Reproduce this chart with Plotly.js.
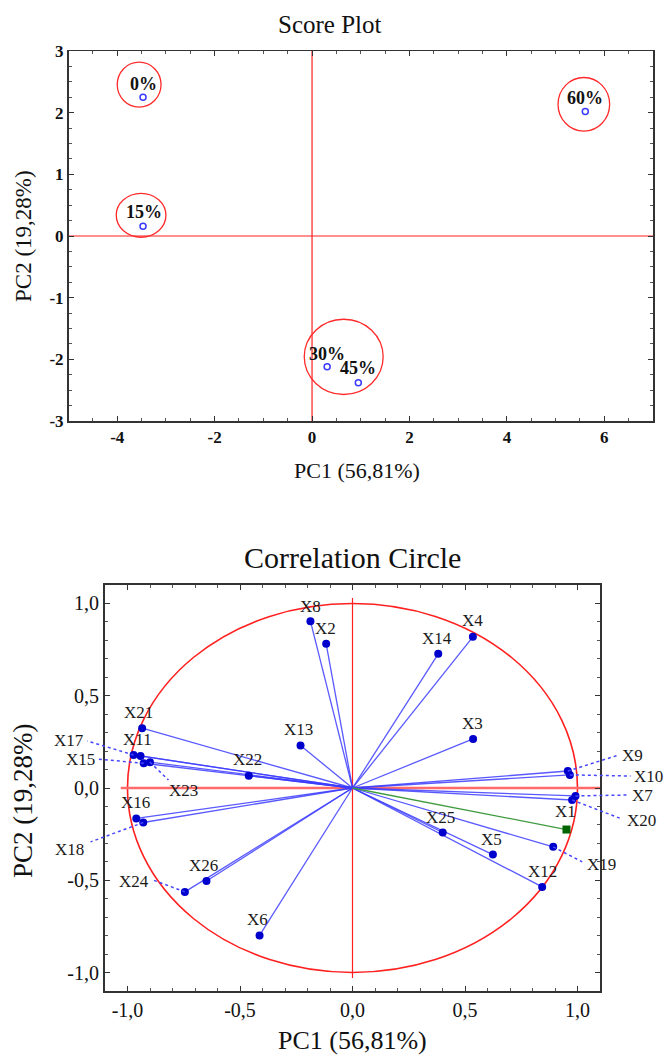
<!DOCTYPE html>
<html><head><meta charset="utf-8">
<script src="https://cdn.plot.ly/plotly-3.0.1.min.js"></script>
<style>html,body{margin:0;padding:0;background:#fff}</style>
</head><body><div id="chart" style="width:671px;height:1057px"></div>
<script>
// ---------- Score plot data ----------
const scoreLabels = ["0%", "15%", "30%", "45%", "60%"];
const scorePC1 = [-3.47, -3.47, 0.31, 0.95, 5.61];
const scorePC2 = [2.25, 0.16, -2.12, -2.38, 2.02];
const scoreLabelPC1 = [-3.47, -3.45, 0.30, 0.95, 5.61];
const scoreLabelPC2 = [2.47, 0.39, -1.91, -2.14, 2.23];
// group ellipses (centre, radii)
const groupCx = [-3.55, -3.51, 0.65, 5.58];
const groupCy = [2.455, 0.335, -1.96, 2.135];
const groupRx = [0.45, 0.51, 0.81, 0.53];
const groupRy = [0.365, 0.355, 0.61, 0.435];
const scoreXTicks = [-4, -2, 0, 2, 4, 6];
const scoreXTickText = ["-4", "-2", "0", "2", "4", "6"];
const scoreYTicks = [-3, -2, -1, 0, 1, 2, 3];
const scoreYTickText = ["-3", "-2", "-1", "0", "1", "2", "3"];

// ---------- Correlation circle data ----------
const varNames = ["X1","X2","X3","X4","X5","X6","X7","X8","X9","X10","X11","X12","X13",
                  "X14","X15","X16","X17","X18","X19","X20","X21","X22","X23","X24","X25","X26"];
const varPC1 = [0.951,-0.117,0.536,0.535,0.624,-0.413,0.991,-0.187,0.957,0.966,-0.942,0.843,-0.231,
                0.381,-0.928,-0.961,-0.973,-0.930,0.892,0.976,-0.935,-0.461,-0.900,-0.745,0.401,-0.649];
const varPC2 = [-0.225,0.781,0.266,0.819,-0.361,-0.799,-0.043,0.904,0.092,0.071,0.174,-0.536,0.230,
                0.727,0.134,-0.165,0.179,-0.187,-0.319,-0.065,0.324,0.067,0.140,-0.563,-0.241,-0.504];
const varLabelPC1 = [0.947,-0.120,0.532,0.532,0.616,-0.424,1.287,-0.187,1.243,1.317,-0.957,0.843,-0.239,
                     0.376,-1.211,-0.964,-1.260,-1.260,1.105,1.283,-0.949,-0.468,-0.753,-0.972,0.391,-0.661];
const varLabelPC2 = [-0.129,0.862,0.348,0.909,-0.277,-0.714,-0.038,0.986,0.174,0.065,0.261,-0.451,0.319,
                     0.808,0.156,-0.080,0.255,-0.333,-0.413,-0.174,0.409,0.156,-0.011,-0.504,-0.159,-0.418];
const highlightVar = "X1";
const leaderNames = ["X17","X15","X23","X18","X24","X9","X10","X7","X20","X19"];
const leaderEndPC1 = [-1.179,-1.127,-0.818,-1.164,-0.883,1.176,1.236,1.221,1.191,1.021];
const leaderEndPC2 = [0.255,0.156,0.043,-0.292,-0.500,0.176,0.065,-0.038,-0.165,-0.400];
const corrTicks = [-1, -0.5, 0, 0.5, 1];
const corrTickText = ["-1,0", "-0,5", "0,0", "0,5", "1,0"];

// ---------- layout geometry ----------
const W = 671, H = 1057;
const SERIF = "Liberation Serif, Times New Roman, serif";
const topDomX = [68.5 / W, 653 / W], topDomY = [1 - 421 / H, 1 - 51 / H];
const botDomX = [105 / W, 600 / W], botDomY = [1 - 991 / H, 1 - 585 / H];
const botRange = [-1.1, 1.1];
const k = (botRange[1] - botRange[0]) / (botDomX[1] - botDomX[0]);
const overlayRange = [botRange[0] - botDomX[0] * k, botRange[1] + (1 - botDomX[1]) * k];

const traces = [];
// score points
traces.push({
  type: "scatter", mode: "markers", x: scorePC1, y: scorePC2, xaxis: "x", yaxis: "y",
  marker: {symbol: "circle-open", size: 6, color: "#3a3aff", line: {width: 1.5, color: "#3a3aff"}},
  hoverinfo: "skip", showlegend: false
});
// correlation vectors
const lx = [], ly = [], dx = [], dy = [];
let gx = [], gy = [];
varNames.forEach((n, i) => {
  if (n === highlightVar) { gx = [0, varPC1[i]]; gy = [0, varPC2[i]]; return; }
  lx.push(0, varPC1[i], null); ly.push(0, varPC2[i], null);
  dx.push(varPC1[i]); dy.push(varPC2[i]);
});
traces.push({type: "scatter", mode: "lines", x: lx, y: ly, xaxis: "x2", yaxis: "y2",
  line: {color: "rgba(60,60,255,0.85)", width: 1.3}, hoverinfo: "skip", showlegend: false});
traces.push({type: "scatter", mode: "lines", x: gx, y: gy, xaxis: "x2", yaxis: "y2",
  line: {color: "#3f9a3f", width: 1.3}, hoverinfo: "skip", showlegend: false});
traces.push({type: "scatter", mode: "markers", x: dx, y: dy, xaxis: "x2", yaxis: "y2",
  marker: {symbol: "circle", size: 8, color: "#0000cc"}, hoverinfo: "skip", showlegend: false});
traces.push({type: "scatter", mode: "markers", x: [gx[1]], y: [gy[1]], xaxis: "x2", yaxis: "y2",
  marker: {symbol: "square", size: 8, color: "#006400"}, hoverinfo: "skip", showlegend: false});
// leader lines (overlay axes spanning full width so they are not clipped)
const ldx = [], ldy = [];
leaderNames.forEach((n, j) => {
  const i = varNames.indexOf(n);
  ldx.push(varPC1[i], leaderEndPC1[j], null); ldy.push(varPC2[i], leaderEndPC2[j], null);
});
traces.push({type: "scatter", mode: "lines", x: ldx, y: ldy, xaxis: "x3", yaxis: "y3",
  line: {color: "#4646ff", width: 1.5, dash: "dot"}, hoverinfo: "skip", showlegend: false});

const shapes = [];
groupCx.forEach((c, i) => shapes.push({type: "circle", xref: "x", yref: "y",
  x0: c - groupRx[i], x1: c + groupRx[i], y0: groupCy[i] - groupRy[i], y1: groupCy[i] + groupRy[i],
  line: {color: "#ff2a2a", width: 1.3}, layer: "above"}));
shapes.push({type: "line", xref: "x", yref: "y", x0: 0, x1: 0, y0: -3, y1: 3, line: {color: "#ff2020", width: 1.2}, layer: "below"});
shapes.push({type: "line", xref: "x", yref: "y", x0: -5, x1: 7, y0: 0, y1: 0, line: {color: "#ff2020", width: 1.2}, layer: "below"});
shapes.push({type: "circle", xref: "x2", yref: "y2", x0: -1, x1: 1, y0: -1, y1: 1, line: {color: "#ff2020", width: 1.6}, layer: "below"});
shapes.push({type: "line", xref: "x2", yref: "y2", x0: -1.03, x1: 1.1, y0: 0, y1: 0, line: {color: "#ff6a6a", width: 2.5}, layer: "below"});
shapes.push({type: "line", xref: "x2", yref: "y2", x0: 0, x1: 0, y0: -1.03, y1: 1.03, line: {color: "#ff2020", width: 1.2}, layer: "below"});

const annotations = [];
scoreLabels.forEach((t, i) => annotations.push({xref: "x", yref: "y", x: scoreLabelPC1[i], y: scoreLabelPC2[i],
  text: "<b>" + t + "</b>", showarrow: false, font: {family: SERIF, size: 18, color: "#111"}}));
// variable labels use the full-width overlay axes so labels beyond the frame are still drawn
varNames.forEach((t, i) => annotations.push({xref: "x3", yref: "y3", x: varLabelPC1[i], y: varLabelPC2[i],
  text: t, showarrow: false, font: {family: SERIF, size: 17, color: "#1a1a1a"}}));
function pap(px, py, text, size, angle) {
  annotations.push({xref: "paper", yref: "paper", x: px / W, y: 1 - py / H, xanchor: "center", yanchor: "middle",
    text: text, showarrow: false, textangle: angle || 0, font: {family: SERIF, size: size, color: "#111"}});
}
pap(330, 25, "Score Plot", 25);
pap(357, 470, "PC1 (56,81%)", 22);
pap(24, 236, "PC2 (19,28%)", 23, -90);
pap(352, 557, "Correlation Circle", 30);
pap(352, 1040, "PC1 (56,81%)", 26);
pap(23, 801, "PC2 (19,28%)", 27, -90);

const frame = {showline: true, mirror: "allticks", linecolor: "#333", linewidth: 1.5, showgrid: false, zeroline: false,
  ticks: "inside", ticklen: 5, tickcolor: "#333"};
const layout = {
  width: W, height: H, autosize: false, margin: {l: 0, r: 0, t: 0, b: 0},
  paper_bgcolor: "#fff", plot_bgcolor: "rgba(0,0,0,0)", showlegend: false, separators: ",.",
  xaxis: Object.assign({}, frame, {domain: topDomX, range: [-5, 7], anchor: "y", tickmode: "array",
    tickvals: scoreXTicks, ticktext: scoreXTickText, tickfont: {family: SERIF, size: 17, color: "#111", weight: "bold"},
    minor: {dtick: 0.5, tick0: 0, ticklen: 3, ticks: "inside", tickcolor: "#555"}}),
  yaxis: Object.assign({}, frame, {domain: topDomY, range: [-3, 3], anchor: "x", tickmode: "array",
    tickvals: scoreYTicks, ticktext: scoreYTickText, tickfont: {family: SERIF, size: 17, color: "#111", weight: "bold"},
    minor: {dtick: 0.25, tick0: 0, ticklen: 3, ticks: "inside", tickcolor: "#555"}}),
  xaxis2: Object.assign({}, frame, {domain: botDomX, range: botRange, anchor: "y2", tickmode: "array",
    tickvals: corrTicks, ticktext: corrTickText, tickfont: {family: SERIF, size: 20, color: "#111"},
    linewidth: 2, minor: {dtick: 0.1, tick0: 0, ticklen: 3, ticks: "inside", tickcolor: "#555"}}),
  yaxis2: Object.assign({}, frame, {domain: botDomY, range: botRange, anchor: "x2", tickmode: "array",
    tickvals: corrTicks, ticktext: corrTickText, tickfont: {family: SERIF, size: 20, color: "#111"},
    linewidth: 2, minor: {dtick: 0.1, tick0: 0, ticklen: 3, ticks: "inside", tickcolor: "#555"}}),
  xaxis3: {domain: [0, 1], range: overlayRange, anchor: "y3", visible: false, fixedrange: true},
  yaxis3: {domain: botDomY, range: botRange, anchor: "x3", visible: false, fixedrange: true},
  shapes: shapes, annotations: annotations
};
Plotly.newPlot("chart", traces, layout, {staticPlot: true, displayModeBar: false});
</script></body></html>
